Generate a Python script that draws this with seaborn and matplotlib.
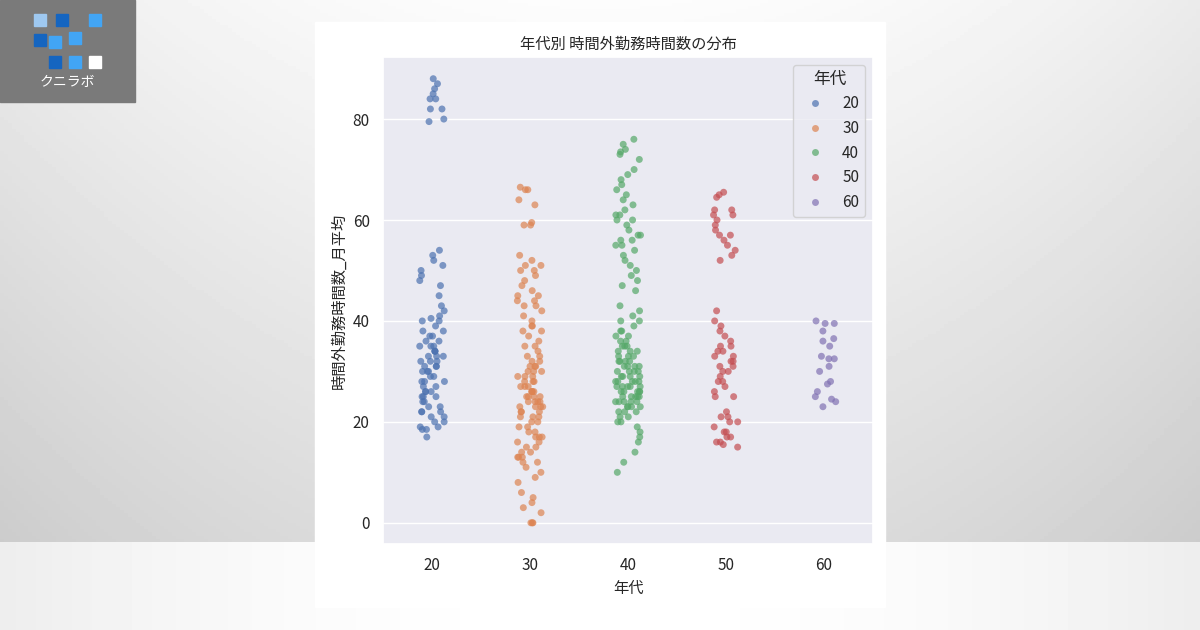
import numpy as np
import pandas as pd
import matplotlib.pyplot as plt
import seaborn as sns
from matplotlib.patches import Rectangle, FancyBboxPatch

# overtime hours, per age group
g20 = [88, 87, 86, 85, 84, 84, 82, 82, 80, 79.5, 54, 53, 52, 51, 50, 49, 48, 47, 45, 43,
       42, 41, 40.5, 40, 40, 39, 38, 38, 37, 37, 36, 36, 35, 35, 35, 34, 34, 34, 33, 33,
       33, 32, 32, 32, 31, 31, 31, 30, 30, 30, 29, 29, 28, 28, 28, 27, 27, 26, 26, 26,
       25, 25, 25, 24, 24, 23, 23, 22, 22, 22, 21, 21, 20, 20, 19, 19, 18.5, 18.5, 17]
g30 = [66.5, 66, 66, 64, 63, 59.5, 59, 59, 53, 52, 51, 51, 50, 50, 49, 48, 47, 46, 45, 45,
       44, 44, 43, 43, 42, 41, 40, 39, 39, 38, 38, 37, 36, 35, 35, 34, 33, 33, 32, 32,
       31, 31, 31, 30, 30, 30, 29, 29, 29, 28, 28, 28, 27, 27, 27, 26, 26, 26, 26, 25,
       25, 25, 25, 24, 24, 24, 24, 23, 23, 23, 23, 22, 22, 22, 21, 21, 21, 20, 20, 19,
       19, 18, 18, 17, 17, 17, 16, 16, 15, 15, 14, 14, 13, 13, 13, 12, 12, 11, 10, 9,
       8, 6, 5, 4, 3, 2, 0, 0, 0]
g40 = [76, 75, 74, 73.5, 73, 72, 70, 69, 68, 67, 66, 65, 64, 63, 62, 61, 61, 60, 60, 59,
       58, 57, 57, 56, 56, 55, 55, 54, 53, 52, 51, 50, 49, 48, 47, 46, 43, 42, 41, 40,
       40, 39, 38, 38, 37, 37, 36, 36, 35, 35, 35, 34, 34, 34, 33, 33, 33, 32, 32, 32,
       32, 31, 31, 31, 31, 30, 30, 30, 30, 29, 29, 29, 29, 28, 28, 28, 28, 28, 27, 27,
       27, 27, 27, 26, 26, 26, 26, 26, 25, 25, 25, 25, 25, 24, 24, 24, 24, 24, 23, 23,
       23, 23, 22, 22, 22, 21, 21, 20, 20, 19, 18, 17, 16, 14, 12, 10]
g50 = [65.5, 65, 64.5, 62, 62, 61, 61, 60, 59, 58, 57, 57, 56, 55, 54, 53, 52,
       42, 40, 39, 38, 37, 36, 35, 35, 34, 34, 33, 33, 32, 32, 31, 31, 30, 30, 29,
       28, 28, 27, 26, 25, 25, 22, 21, 21, 20, 20, 19, 18, 18, 17, 17, 16, 16, 15.5, 15]
g60 = [40, 39.5, 39.5, 38, 36.5, 36, 35, 33, 32.5, 32.5, 31, 30, 28, 27.5, 26, 25,
       24.5, 24, 23]
ages = [20, 30, 40, 50, 60]

df = pd.DataFrame({
    "年代": np.repeat(ages, [len(g) for g in (g20, g30, g40, g50, g60)]),
    "時間外勤務時間数_月平均": g20 + g30 + g40 + g50 + g60,
})

sns.set_theme(style="darkgrid")
plt.rcParams['font.family'] = ['Noto Sans CJK JP', 'DejaVu Sans']

fig = plt.figure(figsize=(12, 6.3), dpi=100)

# gray gradient background
bg = fig.add_axes([0, 0, 1, 1], zorder=-10)
yy = np.linspace(0, 1, 200)
grad = np.where(yy < 0.14, 0.93, 0.80 + 0.12 * (yy - 0.14) / 0.86)
xx = np.linspace(-1, 1, 300)
img = np.clip(grad[:, None] + 0.07 * (1 - xx[None, :] ** 2), 0, 1)
bg.imshow(img, cmap="gray", vmin=0, vmax=1, aspect="auto", origin="lower", extent=[0, 1, 0, 1])
bg.axis("off")

# white panel + logo
fig.patches.append(Rectangle((315 / 1200, 1 - 607 / 630), 570 / 1200, 585 / 630,
                             transform=fig.transFigure, color="white", zorder=-5))
fig.patches.append(Rectangle((0, 1 - 102 / 630), 135 / 1200, 102 / 630,
                             transform=fig.transFigure, color="#7a7a7a", zorder=-4))
fig.text(67 / 1200, 1 - 82 / 630, "クニラボ", color="white", fontsize=10, ha="center", va="center")
for (lx, ly, c) in [(40, 20, "#9ec8f0"), (62, 20, "#1565c0"), (95, 20, "#42a5f5"),
                    (40, 40, "#1565c0"), (55, 42, "#42a5f5"), (75, 38, "#42a5f5"),
                    (55, 62, "#1565c0"), (75, 62, "#42a5f5"), (95, 62, "white")]:
    fig.patches.append(Rectangle((lx / 1200 - 0.005, 1 - ly / 630 - 0.01), 0.01, 0.02,
                                 transform=fig.transFigure, color=c, zorder=-3))

ax = fig.add_axes([383 / 1200, 1 - 544 / 630, 490 / 1200, 487 / 630])
np.random.seed(0)
sns.stripplot(data=df, x="年代", y="時間外勤務時間数_月平均", hue="年代", palette="deep",
              jitter=0.13, alpha=0.7, size=5, ax=ax)
ax.set_ylim(-4.2, 92.3)
ax.set_yticks([0, 20, 40, 60, 80])
ax.set_title("年代別 時間外勤務時間数の分布", fontsize=11)
ax.set_xlabel("年代", fontsize=11)
ax.set_ylabel("時間外勤務時間数_月平均", fontsize=11)
ax.legend(title="年代", loc="upper right")

fig.savefig("out.png", dpi=100)
